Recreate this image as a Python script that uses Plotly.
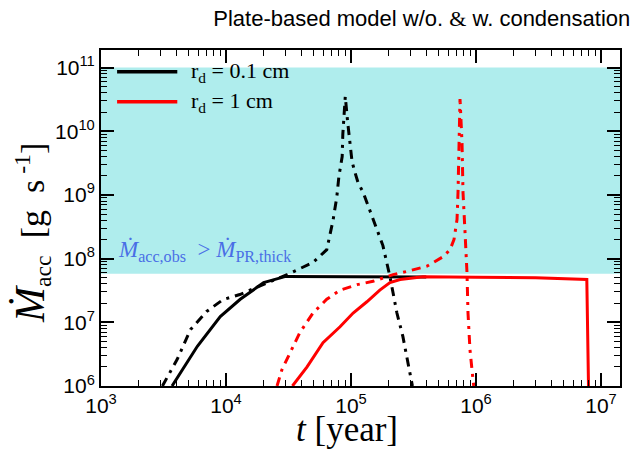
import plotly.graph_objects as go

# ---------------- data ----------------
t_black_solid = [3.7e3, 4.5e3, 5.9e3, 9.0e3, 1.3e4, 2.0e4, 3.0e4, 1.0e5, 4.0e5]
m_black_solid = [1.0e6, 1.8e6, 4.2e6, 1.23e7, 2.3e7, 4.2e7, 5.25e7, 5.2e7, 5.15e7]

t_black_dd = [3.1e3, 4.06e3, 5.2e3, 7.0e3, 9.5e3, 1.29e4, 1.98e4, 3.08e4, 4.97e4, 6.4e4,
              7.2e4, 7.7e4, 8.0e4, 8.5e4, 8.6e4, 8.8e4, 9.0e4, 9.4e4, 9.8e4, 1.02e5,
              1.08e5, 1.14e5, 1.25e5, 1.5e5, 1.8e5, 2.05e5, 2.33e5, 2.6e5, 2.96e5, 3.1e5]
m_black_dd = [1.0e6, 2.6e6, 7.7e6, 1.48e7, 2.28e7, 2.73e7, 3.9e7, 5.6e7, 8.7e7, 1.38e8,
              4.1e8, 9.3e8, 1.95e9, 4.0e9, 8.9e9, 1.95e10, 3.5e10, 1.4e10, 6.9e9, 3.3e9,
              2.2e9, 1.55e9, 1.1e9, 4.1e8, 1.6e8, 5.2e7, 1.4e7, 6.0e6, 1.6e6, 1.0e6]

t_red_solid = [3.4e4, 4.45e4, 5.97e4, 8.17e4, 1.04e5, 1.34e5, 1.7e5, 2.05e5, 2.47e5,
               3.77e5, 1.0e6, 3.0e6, 7.7e6, 7.95e6]
m_red_solid = [1.0e6, 2.0e6, 4.8e6, 8.5e6, 1.4e7, 2.1e7, 3.2e7, 4.2e7, 4.7e7,
               5.2e7, 5.1e7, 5.0e7, 4.7e7, 9.0e5]

t_red_dd = [2.56e4, 2.8e4, 3.25e4, 3.9e4, 4.97e4, 6.4e4, 8.2e4, 1.12e5, 1.5e5, 2.17e5,
            2.8e5, 4.05e5, 5.45e5, 6.2e5, 6.67e5, 7.05e5, 7.18e5, 7.25e5, 7.3e5, 7.45e5,
            7.73e5, 7.87e5, 8.17e5, 8.47e5, 8.63e5, 8.95e5, 9.46e5, 9.6e5]
m_red_dd = [1.0e6, 1.8e6, 3.3e6, 6.9e6, 1.4e7, 2.3e7, 3.2e7, 3.9e7, 4.4e7, 5.6e7,
            6.3e7, 7.6e7, 1.07e8, 1.38e8, 2.0e8, 4.1e8, 1.1e9, 3.6e9, 1.17e10, 3.2e10,
            6.6e9, 1.1e9, 2.6e8, 6.0e7, 1.4e7, 3.7e6, 1.26e6, 1.0e6]

obs_band = [5.8e7, 1.0e11]          # region where Mdot_acc,obs > Mdot_PR,thick

x_tickvals = [1e3, 1e4, 1e5, 1e6, 1e7]
x_ticktext = ["10<sup>3</sup>", "10<sup>4</sup>", "10<sup>5</sup>", "10<sup>6</sup>", "10<sup>7</sup>"]
y_tickvals = [1e6, 1e7, 1e8, 1e9, 1e10, 1e11]
y_ticktext = ["10<sup>6</sup>", "10<sup>7</sup>", "10<sup>8</sup>", "10<sup>9</sup>",
              "10<sup>10</sup>", "10<sup>11</sup>"]

legend_labels = ["r<sub>d</sub> = 0.1 cm", "r<sub>d</sub> = 1 cm"]
legend_colors = ["black", "red"]

SERIF = "Liberation Serif, DejaVu Serif, Times New Roman, serif"
SANS = "Liberation Sans, Arial, Helvetica, sans-serif"
DD = "9px,6px,3px,6px"

fig = go.Figure()
fig.add_trace(go.Scatter(x=t_black_solid, y=m_black_solid, mode="lines",
                         line=dict(color="black", width=3), showlegend=False))
fig.add_trace(go.Scatter(x=t_black_dd, y=m_black_dd, mode="lines",
                         line=dict(color="black", width=3, dash=DD), showlegend=False))
fig.add_trace(go.Scatter(x=t_red_dd, y=m_red_dd, mode="lines",
                         line=dict(color="red", width=3, dash=DD), showlegend=False))
fig.add_trace(go.Scatter(x=t_red_solid, y=m_red_solid, mode="lines",
                         line=dict(color="red", width=3), showlegend=False))

# shaded band
fig.add_shape(type="rect", xref="paper", yref="y", x0=0, x1=1,
              y0=obs_band[0], y1=obs_band[1], fillcolor="#afeded",
              line=dict(width=0), layer="below")

# manual legend (long line samples)
for i, (lab, col) in enumerate(zip(legend_labels, legend_colors)):
    yy = 0.935 - i * 0.089
    fig.add_shape(type="line", xref="paper", yref="paper", x0=0.031, x1=0.147,
                  y0=yy, y1=yy, line=dict(color=col, width=3.5))
    fig.add_annotation(xref="paper", yref="paper", x=0.17, y=yy, text=lab,
                       showarrow=False, xanchor="left", yanchor="middle",
                       font=dict(family=SERIF, size=22, color="black"))

fig.add_annotation(xref="paper", yref="y", x=0.028, y=8.12, xanchor="left", yanchor="middle",
                   showarrow=False,
                   text="<i>Ṁ</i><sub>acc,obs</sub>  > <i>Ṁ</i><sub>PR,thick</sub>",
                   font=dict(family=SERIF, size=23, color="#4a6fe6"))

# axis titles as annotations for exact placement
fig.add_annotation(xref="paper", yref="paper", x=0.474, y=-0.13, xanchor="center",
                   yanchor="middle", showarrow=False, text="<i>t</i> [year]",
                   font=dict(family=SERIF, size=35, color="black"))
fig.add_annotation(xref="paper", yref="paper", x=-0.135, y=0.455, xanchor="center",
                   yanchor="middle", showarrow=False, textangle=-90,
                   text='<span style="font-size:42px"><i>Ṁ</i></span><sub>acc</sub>&nbsp;&nbsp;[g&nbsp;&nbsp;s<sup>&nbsp;-1</sup>]',
                   font=dict(family=SERIF, size=34, color="black"))

axis_common = dict(type="log", showgrid=False, zeroline=False, showline=True,
                   linecolor="black", linewidth=2, mirror="allticks", automargin=False,
                   ticks="inside", ticklen=13, tickwidth=1.5, tickcolor="black",
                   minor=dict(ticks="inside", ticklen=6, tickwidth=1, tickcolor="black",
                              dtick="D1", showgrid=False),
                   tickfont=dict(family=SANS, size=21, color="black"))

fig.update_xaxes(**axis_common, range=[3, 7.152], tickvals=x_tickvals, ticktext=x_ticktext)
fig.update_yaxes(**axis_common, range=[6, 11.275], tickvals=y_tickvals, ticktext=y_ticktext)

fig.update_layout(
    width=641, height=449,
    margin=dict(l=101, r=21, t=50, b=63, autoexpand=False),
    paper_bgcolor="white", plot_bgcolor="white",
    title=dict(text='Plate-based model w/o. <span style="font-family:Liberation Serif">&amp;</span> w. condensation',
               x=0.658, xref="container", xanchor="center", y=0.96, yref="container",
               yanchor="middle", automargin=False,
               font=dict(family=SANS, size=22, color="black")),
    showlegend=False,
)

fig.write_html("out.html", config={"displayModeBar": False},
               post_script="document.body.style.margin='0px';document.body.style.overflow='hidden';")
